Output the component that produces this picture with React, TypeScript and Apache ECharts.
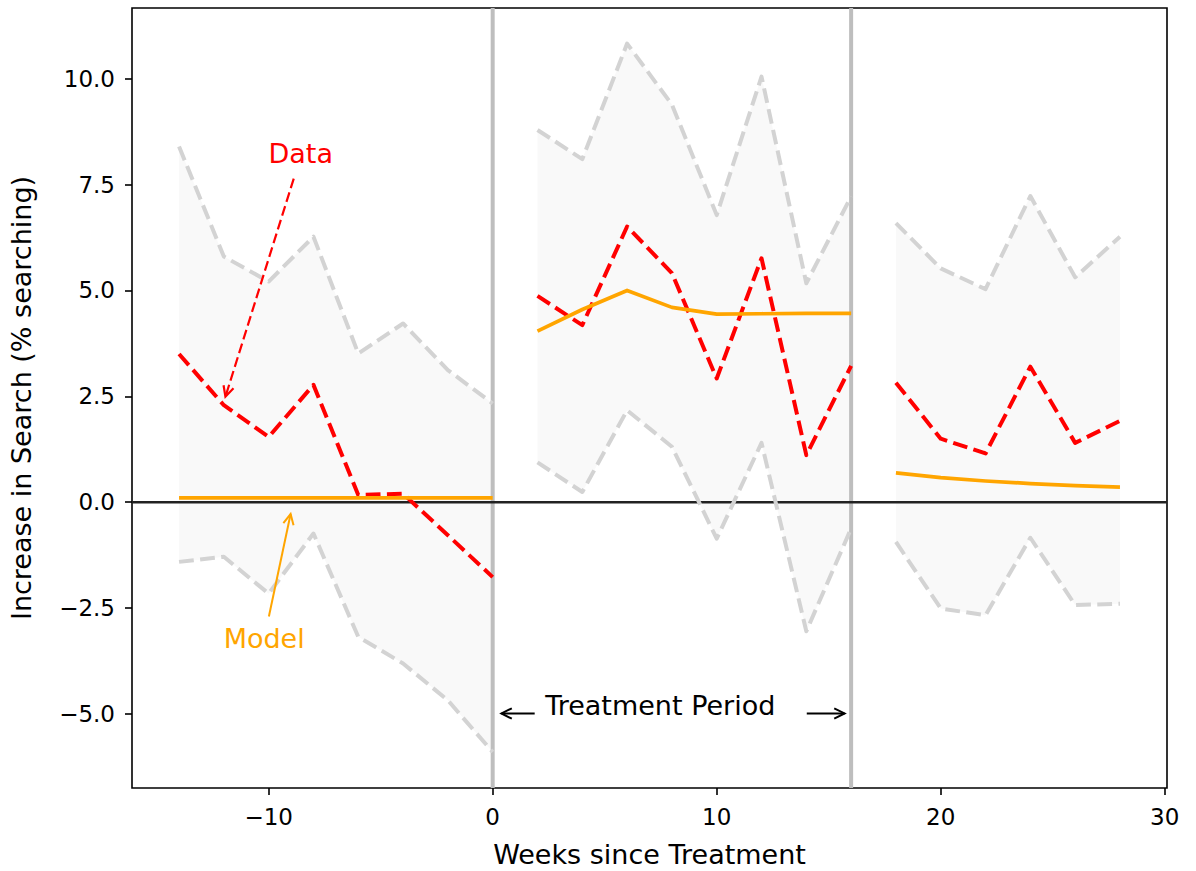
import React, { useEffect, useRef } from "react";
import * as echarts from "echarts";

// ---- Data ----
const weeksPre = [-14, -12, -10, -8, -6, -4, -2, 0];
const weeksTreatment = [2, 4, 6, 8, 10, 12, 14, 16];
const weeksPost = [18, 20, 22, 24, 26, 28];

const dataPre = [3.5, 2.29, 1.54, 2.77, 0.17, 0.2, -0.78, -1.77];
const dataTreatment = [4.87, 4.18, 6.51, 5.41, 2.92, 5.76, 1.11, 3.22];
const dataPost = [2.82, 1.5, 1.15, 3.2, 1.4, 1.92];

const modelPre = [0.1, 0.1, 0.1, 0.1, 0.1, 0.1, 0.1, 0.1];
const modelTreatment = [4.04, 4.55, 5.0, 4.6, 4.44, 4.45, 4.46, 4.46];
const modelPost = [0.69, 0.58, 0.5, 0.44, 0.39, 0.355];

const upperPre = [8.4, 5.8, 5.21, 6.27, 3.51, 4.22, 3.12, 2.33];
const upperTreatment = [8.79, 8.1, 10.83, 9.39, 6.78, 10.05, 5.17, 7.22];
const upperPost = [6.59, 5.52, 5.03, 7.23, 5.31, 6.27];

const lowerPre = [-1.41, -1.29, -2.16, -0.74, -3.18, -3.81, -4.68, -5.9];
const lowerTreatment = [0.94, 0.24, 2.17, 1.31, -0.86, 1.4, -3.05, -0.62];
const lowerPost = [-0.94, -2.51, -2.67, -0.84, -2.43, -2.4];

const xTickValues = [-10, 0, 10, 20, 30];
const yTickValues = [-5, -2.5, 0, 2.5, 5, 7.5, 10];
const periodBoundaries = [0, 16];
const baselineValue = [0];

const xTitle = "Weeks since Treatment";
const yTitle = "Increase in Search (% searching)";
const dataLabel = "Data";
const modelLabel = "Model";
const periodLabel = "Treatment Period";

// ---- Styling ----
const FONT = "DejaVu Sans";
const RED = "#ff0000";
const ORANGE = "#ffa500";
const BAND_LINE = "#d3d3d3";
const BAND_FILL = "#f9f9f9";
const DASH = [14.8, 6.4];
const TEXT_SIZE = 27;
const TICK_SIZE = 23;

const segments = [
  { weeks: weeksPre, data: dataPre, model: modelPre, upper: upperPre, lower: lowerPre },
  { weeks: weeksTreatment, data: dataTreatment, model: modelTreatment, upper: upperTreatment, lower: lowerTreatment },
  { weeks: weeksPost, data: dataPost, model: modelPost, upper: upperPost, lower: lowerPost },
];

const minus = (s: string) => s.replace("-", "\u2212");

function lineSeries(xs: number[], ys: number[], color: string, width: number, dash: any, z: number) {
  return {
    type: "line",
    data: xs.map((x, i) => [x, ys[i]]),
    symbol: "none",
    showSymbol: false,
    silent: true,
    z,
    lineStyle: { color, width, type: dash, join: "round", cap: "butt" },
  };
}

function bandSeries(xs: number[], lo: number[], hi: number[]) {
  return {
    type: "custom",
    silent: true,
    z: 1,
    data: xs.map((x, i) => [x, lo[i], hi[i]]),
    encode: { x: 0, y: [1, 2] },
    renderItem: (params: any, api: any) => {
      if (params.dataIndex !== 0) return { type: "group", children: [] };
      const top = xs.map((x, i) => api.coord([x, hi[i]]));
      const bottom = xs.map((x, i) => api.coord([x, lo[i]])).reverse();
      return {
        type: "polygon",
        shape: { points: top.concat(bottom) },
        style: { fill: BAND_FILL, stroke: null },
      };
    },
  };
}

function arrowEls(api: any, tail: number[], head: number[], color: string, width: number, dash: any) {
  const p1 = api.coord(tail);
  const p2 = api.coord(head);
  const ang = Math.atan2(p2[1] - p1[1], p2[0] - p1[0]);
  const L = 10.4;
  const H = 5.2;
  const bx = p2[0] - L * Math.cos(ang);
  const by = p2[1] - L * Math.sin(ang);
  const nx = -Math.sin(ang) * H;
  const ny = Math.cos(ang) * H;
  return [
    {
      type: "line",
      shape: { x1: p1[0], y1: p1[1], x2: p2[0], y2: p2[1] },
      style: { stroke: color, lineWidth: width, lineDash: dash },
    },
    {
      type: "polyline",
      shape: { points: [[bx + nx, by + ny], [p2[0], p2[1]], [bx - nx, by - ny]] },
      style: { stroke: color, lineWidth: width, fill: null },
    },
  ];
}

function textEl(api: any, pos: number[], text: string, color: string) {
  const p = api.coord(pos);
  return {
    type: "text",
    x: p[0],
    y: p[1],
    style: {
      text,
      fill: color,
      fontSize: TEXT_SIZE,
      fontFamily: FONT,
      align: "center",
      verticalAlign: "middle",
    },
  };
}

const series: any[] = [];

segments.forEach((s) => series.push(bandSeries(s.weeks, s.lower, s.upper)));

// vertical period boundaries
series.push({
  type: "custom",
  silent: true,
  z: 2,
  data: periodBoundaries.map((b) => [b, 0]),
  renderItem: (params: any, api: any) => {
    const cs = params.coordSys;
    const p = api.coord([api.value(0), 0]);
    return {
      type: "line",
      shape: { x1: p[0], y1: cs.y, x2: p[0], y2: cs.y + cs.height },
      style: { stroke: "#bebebe", lineWidth: 4 },
    };
  },
});

// zero line
series.push({
  type: "custom",
  silent: true,
  z: 3,
  data: baselineValue.map((v) => [0, v]),
  renderItem: (params: any, api: any) => {
    const cs = params.coordSys;
    const p = api.coord([0, api.value(1)]);
    return {
      type: "line",
      shape: { x1: cs.x, y1: p[1], x2: cs.x + cs.width, y2: p[1] },
      style: { stroke: "#222222", lineWidth: 2.5 },
    };
  },
});

segments.forEach((s) => {
  series.push(lineSeries(s.weeks, s.upper, BAND_LINE, 4, DASH, 4));
  series.push(lineSeries(s.weeks, s.lower, BAND_LINE, 4, DASH, 4));
});
segments.forEach((s) => series.push(lineSeries(s.weeks, s.data, RED, 4, DASH, 5)));
segments.forEach((s) => series.push(lineSeries(s.weeks, s.model, ORANGE, 3.7, "solid", 6)));

// annotations
series.push({
  type: "custom",
  silent: true,
  z: 7,
  data: [[0, 0]],
  renderItem: (_params: any, api: any) => ({
    type: "group",
    children: [
      textEl(api, [-8.57, 8.23], dataLabel, RED),
      ...arrowEls(api, [-8.88, 7.64], [-11.93, 2.49], RED, 2.2, [10, 4.4]),
      textEl(api, [-10.2, -3.21], modelLabel, ORANGE),
      ...arrowEls(api, [-9.99, -2.7], [-9.02, -0.28], ORANGE, 2, null),
      textEl(api, [7.48, -4.8], periodLabel, "#000"),
      ...arrowEls(api, [1.875, -4.99], [0.39, -4.99], "#000", 2, null),
      ...arrowEls(api, [14.02, -4.99], [15.71, -4.99], "#000", 2, null),
    ],
  }),
});

const option: any = {
  animation: false,
  backgroundColor: "#ffffff",
  grid: {
    left: 132,
    top: 8,
    right: 29,
    bottom: 83,
    show: true,
    borderColor: "#000",
    borderWidth: 1.6,
    backgroundColor: "transparent",
    containLabel: false,
    outerBoundsMode: "none",
  },
  xAxis: {
    type: "value",
    min: -16.1,
    max: 30.1,
    axisLine: { show: false, onZero: false },
    axisTick: { show: true, customValues: xTickValues, length: 7, lineStyle: { color: "#000", width: 1.6 } },
    axisLabel: {
      customValues: xTickValues,
      formatter: (v: number) => minus(String(v)),
      fontSize: TICK_SIZE,
      fontFamily: FONT,
      color: "#000",
      margin: 17,
    },
    splitLine: { show: false },
    name: xTitle,
    nameLocation: "middle",
    nameGap: 53,
    nameTextStyle: { fontSize: TEXT_SIZE, fontFamily: FONT, color: "#000" },
  },
  yAxis: {
    type: "value",
    min: -6.75,
    max: 11.67,
    axisLine: { show: false, onZero: false },
    axisTick: { show: true, customValues: yTickValues, length: 7, lineStyle: { color: "#000", width: 1.6 } },
    axisLabel: {
      customValues: yTickValues,
      formatter: (v: number) => minus(v.toFixed(1)),
      fontSize: TICK_SIZE,
      fontFamily: FONT,
      color: "#000",
      margin: 17,
    },
    splitLine: { show: false },
    name: yTitle,
    nameLocation: "middle",
    nameRotate: 90,
    nameGap: 97,
    nameTextStyle: { fontSize: TEXT_SIZE, fontFamily: FONT, color: "#000" },
  },
  series,
};

export default function App() {
  const ref = useRef<HTMLDivElement>(null);
  useEffect(() => {
    const chart = echarts.init(ref.current!, null, { renderer: "svg" });
    chart.setOption(option);
    return () => chart.dispose();
  }, []);
  return (
    <div
      ref={ref}
      style={{ position: "absolute", left: 0, top: 0, width: 1196, height: 871, background: "#fff" }}
    />
  );
}
